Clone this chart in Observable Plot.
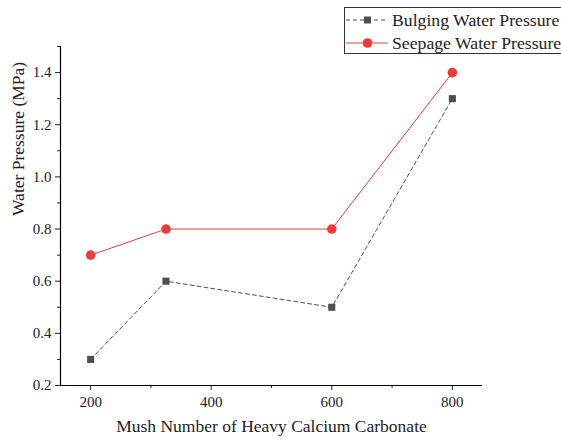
<!DOCTYPE html>
<html><head><meta charset="utf-8">
<script src="https://cdn.jsdelivr.net/npm/d3@7"></script>
<script src="https://cdn.jsdelivr.net/npm/@observablehq/plot@0.6"></script>
<style>
body{margin:0;background:#fff;}
#wrap{position:relative;width:561px;height:443px;font-family:'Liberation Serif', 'Times New Roman', serif;}
#wrap svg, #wrap svg text{font-family:'Liberation Serif', 'Times New Roman', serif !important;}
#legend{position:absolute;left:344px;top:7px;width:220px;height:47px;border:1px solid #333;box-sizing:border-box;background:#fff;font-size:17.7px;color:#222;font-family:'Liberation Serif', 'Times New Roman', serif;}
.row{position:absolute;left:0;height:22px;display:flex;align-items:center;}
.row span{margin-left:4px;white-space:nowrap;}
</style></head><body>
<div id="wrap"></div>
<script>
const mush = [200, 325, 600, 800];
const bulging = [0.3, 0.6, 0.5, 1.3];
const seepage = [0.7, 0.8, 0.8, 1.4];
const yTicks = [0.2, 0.4, 0.6, 0.8, 1.0, 1.2, 1.4];
const yMinor = [0.3, 0.5, 0.7, 0.9, 1.1, 1.3, 1.5];
const xTicks = [200, 400, 600, 800];
const xMinor = [300, 500, 700];
const seriesNames = ["Bulging Water Pressure", "Seepage Water Pressure"];

const bData = mush.map((x, i) => ({x, y: bulging[i]}));
const sData = mush.map((x, i) => ({x, y: seepage[i]}));
const gray = "#4f4f4f", red = "#ee3a3a";

const chart = Plot.plot({
  width: 561, height: 443,
  marginLeft: 60, marginRight: 79, marginTop: 46, marginBottom: 58,
  style: {fontSize: "14px", color: "#222", background: "#fff"},
  x: {domain: [150, 850]},
  y: {domain: [0.2, 1.5]},
  marks: [
    Plot.axisX({ticks: xTicks, tickSize: 5, tickPadding: 6, fontSize: 15, label: null}),
    Plot.axisX({ticks: xMinor, tickSize: 3, text: null, label: null}),
    Plot.axisY({ticks: yTicks, tickSize: 5, tickPadding: 4, fontSize: 15, tickFormat: d3.format(".1f"), label: null}),
    Plot.axisY({ticks: yMinor, tickSize: 3, text: null, label: null}),
    Plot.text(["Mush Number of Heavy Calcium Carbonate"], {frameAnchor: "bottom", dy: 46, fontSize: 17.5}),
    Plot.text(["Water Pressure (MPa)"], {frameAnchor: "left", dx: -42, rotate: -90, fontSize: 17.5}),
    Plot.ruleX([150], {stroke: "#000", strokeWidth: 1.2}),
    Plot.ruleY([0.2], {stroke: "#000", strokeWidth: 1.2}),
    Plot.line(bData, {x: "x", y: "y", stroke: gray, strokeWidth: 1, strokeDasharray: "4,3"}),
    Plot.dot(bData, {x: "x", y: "y", symbol: "square", r: 4, fill: gray, stroke: "none"}),
    Plot.line(sData, {x: "x", y: "y", stroke: red, strokeWidth: 1}),
    Plot.dot(sData, {x: "x", y: "y", symbol: "circle", r: 4.8, fill: red, stroke: "none"})
  ]
});
const wrap = document.getElementById("wrap");
wrap.appendChild(chart);

const leg = document.createElement("div");
leg.id = "legend";
const sym = [
  `<svg width="43" height="12"><line x1="1" y1="6" x2="43" y2="6" stroke="${gray}" stroke-dasharray="4,3"/><rect x="19" y="2.5" width="7" height="7" fill="${gray}"/></svg>`,
  `<svg width="43" height="12"><line x1="1" y1="6" x2="43" y2="6" stroke="${red}"/><circle cx="22.5" cy="6" r="4.8" fill="${red}"/></svg>`
];
seriesNames.forEach((n, i) => {
  const r = document.createElement("div");
  r.className = "row";
  r.style.top = (1 + i * 23) + "px";
  r.innerHTML = sym[i] + `<span>${n}</span>`;
  leg.appendChild(r);
});
wrap.appendChild(leg);
</script>
</body></html>
